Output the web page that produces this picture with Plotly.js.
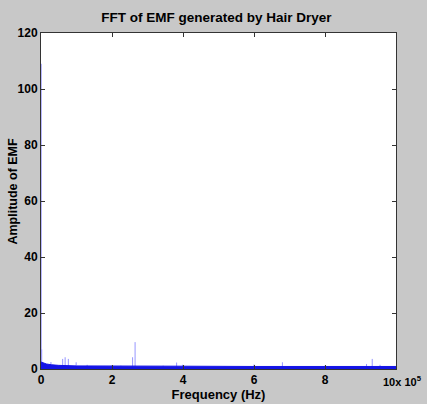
<!DOCTYPE html>
<html>
<head>
<meta charset="utf-8">
<script src="https://cdn.plot.ly/plotly-3.0.1.min.js"></script>
<style>html,body{margin:0;padding:0;background:#c8c8c8;}#chart{width:427px;height:404px;}</style>
</head>
<body>
<div id="chart"></div>
<script>
// Noise floor of the spectrum (Hz, amplitude)
const floorFreq = [0, 5000, 15000, 30000, 50000, 100000, 200000, 400000, 600000, 800000, 1000000];
const floorAmp  = [2.5, 2.2, 1.8, 1.5, 1.3, 1.1, 1.0, 1.0, 0.9, 0.9, 0.9];

// Spectral peaks (Hz, amplitude)
const peakFreq = [500, 2000, 28000, 61000, 68000, 77000, 99000, 130000, 200000, 225000, 258000, 265000, 344000, 382000, 399000, 518000, 600000, 680000, 800000, 807000, 872000, 917000, 933000, 955000, 967000];
const peakAmp  = [109, 7, 2.5, 3.6, 4.2, 3.6, 2.4, 1.5, 1.3, 1.2, 4.2, 9.6, 1.2, 2.3, 1.5, 0.9, 1.6, 2.4, 1.2, 1.0, 0.9, 1.8, 3.6, 1.5, 0.9];

const xTickVals = [0, 200000, 400000, 600000, 800000, 1000000];
const xTickText = ['0', '2', '4', '6', '8', ''];
const xLastLabel = '10x 10<sup>5</sup>';
const yTickVals = [0, 20, 40, 60, 80, 100, 120];

const px = [], py = [];
peakFreq.forEach((f, i) => { px.push(f, f, null); py.push(0, peakAmp[i], null); });

const traces = [
  {x: px, y: py, mode: 'lines', line: {color: 'rgb(150,150,255)', width: 1}, hoverinfo: 'none', showlegend: false},
  {x: floorFreq, y: floorAmp, mode: 'lines', fill: 'tozeroy', fillcolor: 'rgb(20,20,230)', line: {color: 'rgb(20,20,230)', width: 1}, hoverinfo: 'none', showlegend: false}
];

const fam = 'Liberation Sans, Arial, sans-serif';
const tickFont = {family: fam, size: 12, color: '#000', weight: 'bold'};
const titleFont = {family: fam, size: 13, color: '#000', weight: 'bold'};
const layout = {
  width: 427, height: 404,
  paper_bgcolor: '#c8c8c8', plot_bgcolor: '#ffffff',
  margin: {l: 41, r: 31, t: 33, b: 35},
  title: {text: 'FFT of EMF generated by Hair Dryer', font: {family: fam, size: 13.5, color: '#000', weight: 'bold'}, x: 0.507, xanchor: 'center', y: 0.958, yanchor: 'middle'},
  xaxis: {
    range: [0, 1000000], tickvals: xTickVals, ticktext: xTickText,
    showgrid: false, zeroline: false, showline: true, linecolor: '#333', linewidth: 1,
    mirror: 'ticks', ticks: 'inside', ticklen: 4, tickcolor: '#333',
    tickfont: tickFont,
    title: {text: 'Frequency (Hz)', font: titleFont, standoff: 0}
  },
  yaxis: {
    range: [0, 120], tickvals: yTickVals,
    showgrid: false, zeroline: false, showline: true, linecolor: '#333', linewidth: 1,
    mirror: 'ticks', ticks: 'inside', ticklen: 4, tickcolor: '#333',
    tickfont: tickFont
  },
  annotations: [
    {xref: 'paper', yref: 'paper', x: 1.08, y: 0, yshift: -12, xanchor: 'right', yanchor: 'middle',
     text: xLastLabel, showarrow: false, font: {family: fam, size: 11, color: '#000', weight: 'bold'}},
    {xref: 'paper', yref: 'paper', x: 0, xshift: -28, y: 0.528, xanchor: 'center', yanchor: 'middle', textangle: -90,
     text: 'Amplitude of EMF', showarrow: false, font: {family: fam, size: 12.5, color: '#000', weight: 'bold'}}
  ]
};

Plotly.newPlot('chart', traces, layout, {displayModeBar: false, staticPlot: true});
</script>
</body>
</html>
